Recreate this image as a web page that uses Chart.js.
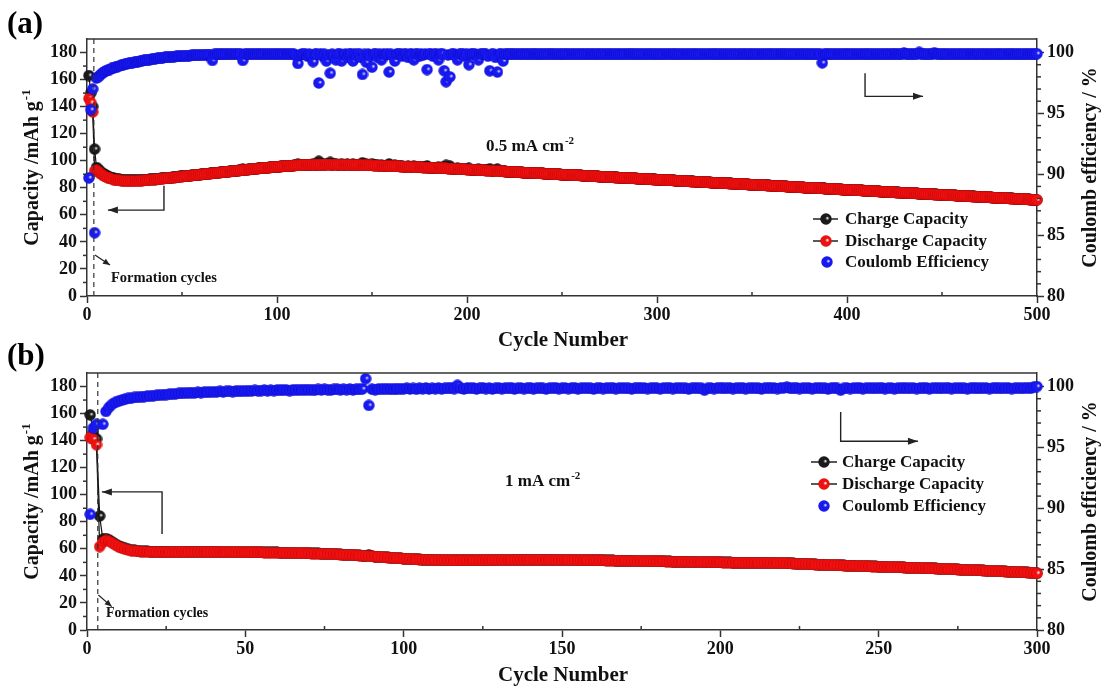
<!DOCTYPE html>
<html><head><meta charset="utf-8">
<script src="https://cdn.jsdelivr.net/npm/chart.js@4.4.1/dist/chart.umd.min.js"></script>
<style>
html,body{margin:0;padding:0;background:#fff;width:1103px;height:686px;overflow:hidden}
canvas{position:absolute;left:0}
#ca{top:0}#cb{top:335px}
</style></head><body>
<canvas id="ca" width="1103" height="360"></canvas>
<canvas id="cb" width="1103" height="351"></canvas>
<script>
// ---------------- DATA: panel (a) 0.5 mA cm-2, 500 cycles ----------------
const nA = 500;
const cycleA = Array.from({length: nA}, (_, i) => i + 1);
const chargeA = [
163.0,150.0,140.0,108.6,95.0,93.6,92.2,91.0,90.0,89.2,
88.5,87.9,87.4,87.0,86.7,86.4,86.2,86.0,85.8,85.7,
85.6,85.6,85.6,85.5,85.6,85.6,85.7,85.8,85.8,85.9,
86.0,86.1,86.2,86.3,86.4,86.5,86.7,86.8,87.0,87.1,
87.2,87.3,87.5,87.6,87.8,87.9,88.1,88.2,88.4,88.5,
88.6,88.7,88.9,89.0,89.2,89.3,89.5,89.6,89.8,89.9,
90.1,90.2,90.4,90.5,90.7,91.2,91.0,91.1,91.3,91.4,
91.5,91.6,91.8,91.9,92.1,92.2,92.4,92.5,92.7,92.8,
93.0,93.6,93.3,93.4,93.6,93.7,93.9,94.0,94.1,94.3,
94.4,94.6,94.7,94.8,95.0,95.1,95.2,95.4,95.5,95.6,
95.7,95.8,95.9,96.0,96.1,96.2,96.3,96.4,96.5,96.7,
97.5,96.8,96.8,96.9,96.9,97.2,97.0,97.2,97.7,97.1,
97.2,99.6,97.2,97.4,97.2,97.8,97.3,98.8,97.2,97.3,
97.7,97.1,97.1,97.7,97.2,97.0,97.3,97.0,97.0,97.5,
96.9,97.1,96.8,97.1,98.5,96.7,97.4,96.6,96.8,97.7,
96.5,96.5,96.7,96.4,96.8,96.3,96.3,96.2,97.6,96.1,
96.2,96.6,95.9,95.9,95.8,96.0,95.7,95.7,95.9,95.6,
95.5,95.9,95.4,95.3,95.5,95.2,95.2,95.1,96.2,95.0,
94.9,95.0,94.8,94.7,95.1,94.6,94.5,95.7,96.6,94.4,
96.0,94.2,94.1,94.2,94.5,93.9,93.8,93.8,93.9,93.6,
94.4,93.4,93.4,93.3,93.3,93.6,93.1,93.0,92.9,92.8,
93.0,94.0,92.6,92.5,92.8,93.8,92.3,92.2,92.7,92.1,
92.0,91.9,91.9,91.8,91.7,91.6,91.6,91.5,91.4,91.3,
91.3,91.2,91.1,91.0,91.0,90.9,90.8,90.7,90.7,90.6,
90.5,90.4,90.4,90.3,90.2,90.1,90.1,90.0,89.9,89.8,
89.8,89.7,89.6,89.5,89.5,89.4,89.3,89.2,89.2,89.1,
89.0,88.9,88.9,88.8,88.7,88.6,88.6,88.5,88.4,88.3,
88.3,88.2,88.1,88.0,88.0,87.9,87.8,87.7,87.7,87.6,
87.5,87.4,87.4,87.3,87.2,87.1,87.1,87.0,86.9,86.8,
86.8,86.7,86.6,86.5,86.5,86.4,86.3,86.2,86.2,86.1,
86.0,85.9,85.9,85.8,85.7,85.6,85.6,85.5,85.4,85.3,
85.3,85.2,85.1,85.0,85.0,84.9,84.8,84.7,84.7,84.6,
84.5,84.4,84.4,84.3,84.2,84.1,84.1,84.0,83.9,83.8,
83.8,83.7,83.6,83.5,83.5,83.4,83.3,83.2,83.2,83.1,
83.0,82.9,82.9,82.8,82.7,82.6,82.6,82.5,82.4,82.3,
82.3,82.2,82.1,82.0,82.0,81.9,81.8,81.7,81.7,81.6,
81.5,81.4,81.4,81.3,81.2,81.1,81.1,81.0,80.9,80.8,
80.8,80.7,80.6,80.5,80.5,80.4,80.3,80.2,80.2,80.1,
80.0,79.9,79.9,79.8,79.7,79.6,80.2,79.5,79.4,79.3,
79.3,79.2,79.1,79.0,79.0,78.9,78.8,78.7,78.7,78.6,
78.5,78.4,78.4,78.3,78.2,78.1,78.1,78.0,77.9,77.8,
77.8,77.7,77.6,77.5,77.5,77.4,77.3,77.2,77.2,77.1,
77.0,76.9,76.9,76.8,76.7,76.6,76.6,76.5,76.4,76.3,
76.3,76.2,76.1,76.0,76.0,75.9,75.8,75.7,75.7,75.6,
75.5,75.4,75.4,75.3,75.2,75.1,75.1,75.0,74.9,74.8,
74.8,74.7,74.6,74.5,74.5,74.4,74.3,74.2,74.2,74.1,
74.0,73.9,73.9,73.8,73.7,73.6,73.6,73.5,73.4,73.3,
73.3,73.2,73.1,73.0,73.0,72.9,72.8,72.7,72.7,72.6,
72.5,72.4,72.4,72.3,72.2,72.1,72.1,72.0,71.9,71.8,
71.8,71.7,71.6,71.5,71.5,71.4,71.3,71.2,71.2,71.1];
const dischargeA = [
146.0,143.0,136.0,92.5,93.0,91.8,90.6,89.6,88.7,88.0,
87.4,86.9,86.5,86.1,85.8,85.6,85.4,85.2,85.1,85.0,
84.9,84.9,84.9,84.9,85.0,85.0,85.1,85.2,85.3,85.4,
85.5,85.6,85.7,85.9,86.0,86.1,86.3,86.4,86.6,86.7,
86.9,87.0,87.2,87.3,87.5,87.6,87.8,87.9,88.1,88.2,
88.4,88.5,88.7,88.8,89.0,89.1,89.3,89.4,89.6,89.7,
89.9,90.0,90.2,90.3,90.5,90.6,90.8,90.9,91.1,91.2,
91.4,91.5,91.7,91.8,92.0,92.1,92.3,92.4,92.6,92.7,
92.9,93.0,93.2,93.3,93.5,93.6,93.8,93.9,94.0,94.2,
94.3,94.5,94.6,94.7,94.9,95.0,95.1,95.3,95.4,95.5,
95.6,95.7,95.8,95.9,96.0,96.1,96.2,96.3,96.4,96.5,
96.6,96.6,96.7,96.8,96.8,96.9,96.9,97.0,97.0,97.0,
97.1,97.1,97.1,97.1,97.1,97.1,97.1,97.1,97.1,97.1,
97.1,97.0,97.0,97.0,97.0,96.9,96.9,96.9,96.9,96.8,
96.8,96.8,96.7,96.7,96.7,96.6,96.6,96.5,96.5,96.5,
96.4,96.4,96.3,96.3,96.2,96.2,96.1,96.1,96.0,96.0,
95.9,95.9,95.8,95.8,95.7,95.7,95.6,95.6,95.5,95.5,
95.4,95.3,95.3,95.2,95.2,95.1,95.0,95.0,94.9,94.9,
94.8,94.7,94.7,94.6,94.5,94.5,94.4,94.3,94.3,94.2,
94.1,94.1,94.0,93.9,93.9,93.8,93.7,93.7,93.6,93.5,
93.4,93.3,93.3,93.2,93.1,93.0,93.0,92.9,92.8,92.7,
92.7,92.6,92.5,92.4,92.4,92.3,92.2,92.1,92.1,92.0,
91.9,91.8,91.8,91.7,91.6,91.5,91.5,91.4,91.3,91.2,
91.2,91.1,91.0,90.9,90.9,90.8,90.7,90.6,90.6,90.5,
90.4,90.3,90.3,90.2,90.1,90.0,90.0,89.9,89.8,89.7,
89.7,89.6,89.5,89.4,89.4,89.3,89.2,89.1,89.1,89.0,
88.9,88.8,88.8,88.7,88.6,88.5,88.5,88.4,88.3,88.2,
88.2,88.1,88.0,87.9,87.9,87.8,87.7,87.6,87.6,87.5,
87.4,87.3,87.3,87.2,87.1,87.0,87.0,86.9,86.8,86.7,
86.7,86.6,86.5,86.4,86.4,86.3,86.2,86.1,86.1,86.0,
85.9,85.8,85.8,85.7,85.6,85.5,85.5,85.4,85.3,85.2,
85.2,85.1,85.0,84.9,84.9,84.8,84.7,84.6,84.6,84.5,
84.4,84.3,84.3,84.2,84.1,84.0,84.0,83.9,83.8,83.7,
83.7,83.6,83.5,83.4,83.4,83.3,83.2,83.1,83.1,83.0,
82.9,82.8,82.8,82.7,82.6,82.5,82.5,82.4,82.3,82.2,
82.2,82.1,82.0,81.9,81.9,81.8,81.7,81.6,81.6,81.5,
81.4,81.3,81.3,81.2,81.1,81.0,81.0,80.9,80.8,80.7,
80.7,80.6,80.5,80.4,80.4,80.3,80.2,80.1,80.1,80.0,
79.9,79.8,79.8,79.7,79.6,79.5,79.5,79.4,79.3,79.2,
79.2,79.1,79.0,78.9,78.9,78.8,78.7,78.6,78.6,78.5,
78.4,78.3,78.3,78.2,78.1,78.0,78.0,77.9,77.8,77.7,
77.7,77.6,77.5,77.4,77.4,77.3,77.2,77.1,77.1,77.0,
76.9,76.8,76.8,76.7,76.6,76.5,76.5,76.4,76.3,76.2,
76.2,76.1,76.0,75.9,75.9,75.8,75.7,75.6,75.6,75.5,
75.4,75.3,75.3,75.2,75.1,75.0,75.0,74.9,74.8,74.7,
74.7,74.6,74.5,74.4,74.4,74.3,74.2,74.1,74.1,74.0,
73.9,73.8,73.8,73.7,73.6,73.5,73.5,73.4,73.3,73.2,
73.2,73.1,73.0,72.9,72.9,72.8,72.7,72.6,72.6,72.5,
72.4,72.3,72.3,72.2,72.1,72.0,72.0,71.9,71.8,71.7,
71.7,71.6,71.5,71.4,71.4,71.3,71.2,71.1,71.1,71.0];
const ceA = [
89.7,95.3,97.0,85.2,97.9,98.0,98.15,98.3,98.4,98.5,
98.55,98.6,98.7,98.75,98.8,98.85,98.9,98.95,99.0,99.05,
99.08,99.1,99.13,99.16,99.2,99.23,99.26,99.3,99.33,99.36,
99.38,99.4,99.42,99.45,99.47,99.5,99.52,99.54,99.56,99.58,
99.6,99.61,99.62,99.64,99.65,99.66,99.68,99.69,99.7,99.71,
99.72,99.73,99.74,99.75,99.76,99.77,99.78,99.78,99.79,99.8,
99.8,99.81,99.82,99.82,99.83,99.35,99.84,99.84,99.85,99.85,
99.86,99.85,99.87,99.86,99.87,99.86,99.88,99.87,99.86,99.87,
99.88,99.35,99.87,99.88,99.86,99.87,99.88,99.87,99.86,99.88,
99.87,99.86,99.88,99.87,99.86,99.87,99.88,99.86,99.87,99.88,
99.87,99.86,99.88,99.87,99.86,99.88,99.87,99.86,99.87,99.75,
99.1,99.8,99.87,99.85,99.88,99.7,99.86,99.8,99.25,99.87,
99.85,97.5,99.9,99.7,99.86,99.3,99.8,98.3,99.87,99.75,
99.4,99.85,99.9,99.3,99.82,99.88,99.6,99.86,99.9,99.3,
99.85,99.7,99.92,99.6,98.2,99.85,99.2,99.88,99.7,98.8,
99.86,99.9,99.6,99.85,99.4,99.88,99.8,99.9,98.4,99.86,
99.7,99.3,99.88,99.85,99.9,99.7,99.86,99.88,99.6,99.87,
99.85,99.4,99.88,99.9,99.7,99.86,99.8,99.88,98.6,99.87,
99.9,99.7,99.86,99.88,99.4,99.85,99.9,98.5,97.6,99.8,
98.0,99.86,99.9,99.7,99.4,99.85,99.88,99.9,99.7,99.86,
99.0,99.88,99.85,99.9,99.8,99.4,99.86,99.88,99.9,99.85,
99.7,98.5,99.86,99.88,99.6,98.4,99.85,99.9,99.3,99.86,
99.88,99.85,99.9,99.86,99.87,99.88,99.85,99.87,99.88,99.86,
99.86,99.88,99.85,99.87,99.9,99.86,99.84,99.88,99.87,99.85,
99.88,99.86,99.87,99.9,99.85,99.87,99.86,99.88,99.84,99.87,
99.86,99.89,99.85,99.87,99.88,99.86,99.85,99.88,99.87,99.86,
99.87,99.85,99.88,99.86,99.89,99.87,99.85,99.86,99.88,99.87,
99.85,99.88,99.86,99.87,99.89,99.85,99.87,99.86,99.88,99.85,
99.87,99.86,99.88,99.85,99.87,99.9,99.86,99.87,99.85,99.88,
99.86,99.87,99.85,99.88,99.86,99.87,99.89,99.85,99.87,99.86,
99.88,99.85,99.87,99.86,99.88,99.87,99.85,99.89,99.86,99.87,
99.85,99.88,99.86,99.87,99.85,99.88,99.87,99.86,99.89,99.85,
99.87,99.86,99.88,99.85,99.87,99.86,99.88,99.87,99.85,99.89,
99.86,99.87,99.85,99.88,99.86,99.87,99.85,99.88,99.87,99.86,
99.88,99.85,99.87,99.86,99.89,99.87,99.85,99.86,99.88,99.87,
99.85,99.88,99.86,99.87,99.85,99.88,99.87,99.86,99.89,99.85,
99.87,99.86,99.88,99.85,99.87,99.9,99.86,99.87,99.85,99.88,
99.86,99.87,99.85,99.88,99.86,99.87,99.89,99.85,99.87,99.86,
99.88,99.85,99.87,99.86,99.88,99.87,99.15,99.89,99.86,99.87,
99.85,99.88,99.86,99.87,99.85,99.88,99.87,99.86,99.89,99.85,
99.87,99.86,99.88,99.85,99.87,99.86,99.88,99.87,99.85,99.89,
99.86,99.87,99.85,99.88,99.86,99.87,99.85,99.88,99.87,99.86,
99.88,99.85,99.87,99.86,99.9,99.87,99.85,99.86,99.88,99.97,
99.85,99.88,99.86,99.87,99.85,99.88,99.87,100.02,99.89,99.85,
99.87,99.86,99.88,99.85,99.87,99.98,99.88,99.87,99.85,99.89,
99.86,99.87,99.85,99.88,99.86,99.87,99.85,99.88,99.87,99.86,
99.88,99.85,99.87,99.86,99.89,99.87,99.85,99.86,99.88,99.87,
99.85,99.88,99.86,99.87,99.85,99.88,99.87,99.86,99.89,99.85,
99.87,99.86,99.88,99.85,99.87,99.9,99.86,99.87,99.85,99.88,
99.86,99.87,99.85,99.88,99.86,99.87,99.89,99.85,99.87,99.9];

// ---------------- DATA: panel (b) 1 mA cm-2, 300 cycles ----------------
const nB = 300;
const cycleB = Array.from({length: nB}, (_, i) => i + 1);
const chargeB = [
159.0,146.0,141.3,84.3,67.1,67.6,66.6,65.1,63.6,62.2,
61.2,60.3,59.6,59.2,58.9,58.6,58.4,58.3,58.1,58.0,
58.0,57.9,57.9,57.9,57.9,57.8,57.8,57.8,57.8,57.8,
57.8,57.9,57.8,57.9,57.8,57.9,57.8,57.8,57.9,57.8,
57.8,57.8,57.7,57.8,57.7,57.7,57.7,57.7,57.6,57.6,
57.6,57.6,57.5,57.5,57.5,57.4,57.4,57.4,57.3,57.3,
57.2,57.2,57.1,57.1,57.0,57.0,56.9,56.9,56.8,56.8,
56.7,56.7,56.6,56.5,56.4,56.4,56.3,56.2,56.1,56.0,
55.8,55.7,55.6,55.4,55.3,55.1,55.0,54.4,55.5,54.5,
54.3,54.2,54.0,53.8,53.6,53.5,53.3,53.1,53.0,52.8,
52.7,52.6,52.4,52.3,52.2,52.1,52.0,51.9,51.9,51.8,
51.8,51.7,51.7,51.7,51.6,51.6,51.6,51.6,51.6,51.6,
51.6,51.6,51.7,51.7,51.7,51.7,51.7,51.8,51.8,51.8,
51.8,51.8,51.8,51.8,51.9,51.9,51.9,51.9,51.9,51.9,
51.9,51.9,51.9,51.9,51.9,51.9,51.9,51.8,51.8,51.8,
51.8,51.8,51.8,51.7,51.7,51.7,51.7,51.6,51.6,51.6,
51.5,51.5,51.5,51.4,51.4,51.4,51.3,51.3,51.3,51.2,
51.2,51.2,51.1,51.1,51.0,51.0,51.0,50.9,50.9,50.8,
50.8,50.8,50.7,50.7,50.6,50.6,50.6,50.5,50.5,50.4,
50.4,50.4,50.3,50.3,50.2,50.2,50.2,50.1,50.1,50.1,
50.0,50.0,50.0,49.9,49.9,49.9,49.9,49.8,49.8,49.8,
49.8,49.7,49.7,49.7,49.7,49.6,49.6,49.6,49.5,49.5,
49.4,49.3,49.2,49.1,49.0,48.9,48.8,48.7,48.6,48.5,
48.4,48.3,48.2,48.1,48.0,48.0,47.9,47.8,47.7,47.6,
47.6,47.5,47.4,47.3,47.3,47.2,47.1,47.0,47.0,46.9,
46.8,46.7,46.7,46.6,46.5,46.4,46.4,46.3,46.2,46.1,
46.0,46.0,45.9,45.8,45.7,45.6,45.6,45.5,45.4,45.3,
45.2,45.1,45.0,44.9,44.8,44.7,44.6,44.5,44.4,44.3,
44.2,44.1,44.0,43.9,43.8,43.7,43.6,43.5,43.4,43.3,
43.2,43.1,43.0,42.9,42.8,42.7,42.6,42.4,42.2,42.0];
const dischargeB = [
142.3,141.0,137.0,61.6,65.0,66.2,65.5,64.2,62.8,61.5,
60.5,59.7,59.1,58.7,58.4,58.2,58.0,57.9,57.8,57.7,
57.7,57.6,57.6,57.6,57.6,57.6,57.6,57.6,57.6,57.6,
57.6,57.7,57.6,57.7,57.6,57.7,57.6,57.6,57.7,57.6,
57.6,57.6,57.5,57.6,57.5,57.5,57.5,57.5,57.4,57.4,
57.4,57.4,57.3,57.3,57.3,57.2,57.2,57.2,57.1,57.1,
57.0,57.0,56.9,56.9,56.8,56.8,56.7,56.7,56.6,56.6,
56.5,56.5,56.4,56.3,56.2,56.2,56.1,56.0,55.9,55.8,
55.7,55.6,55.5,55.3,55.2,55.0,54.9,54.7,54.6,54.4,
54.2,54.1,53.9,53.7,53.5,53.4,53.2,53.0,52.9,52.7,
52.6,52.5,52.3,52.2,52.1,52.0,51.9,51.8,51.8,51.7,
51.7,51.6,51.6,51.6,51.5,51.5,51.5,51.5,51.5,51.5,
51.5,51.5,51.6,51.6,51.6,51.6,51.6,51.7,51.7,51.7,
51.7,51.7,51.7,51.7,51.8,51.8,51.8,51.8,51.8,51.8,
51.8,51.8,51.8,51.8,51.8,51.8,51.8,51.7,51.7,51.7,
51.7,51.7,51.7,51.6,51.6,51.6,51.6,51.5,51.5,51.5,
51.4,51.4,51.4,51.3,51.3,51.3,51.2,51.2,51.2,51.1,
51.1,51.1,51.0,51.0,50.9,50.9,50.9,50.8,50.8,50.7,
50.7,50.7,50.6,50.6,50.5,50.5,50.5,50.4,50.4,50.3,
50.3,50.3,50.2,50.2,50.1,50.1,50.1,50.0,50.0,50.0,
49.9,49.9,49.9,49.8,49.8,49.8,49.8,49.7,49.7,49.7,
49.7,49.6,49.6,49.6,49.6,49.5,49.5,49.5,49.4,49.4,
49.3,49.2,49.1,49.0,48.9,48.8,48.7,48.6,48.5,48.4,
48.3,48.2,48.1,48.0,47.9,47.9,47.8,47.7,47.6,47.5,
47.5,47.4,47.3,47.2,47.2,47.1,47.0,46.9,46.9,46.8,
46.7,46.6,46.6,46.5,46.4,46.3,46.3,46.2,46.1,46.0,
45.9,45.9,45.8,45.7,45.6,45.5,45.5,45.4,45.3,45.2,
45.1,45.0,44.9,44.8,44.7,44.6,44.5,44.4,44.3,44.2,
44.1,44.0,43.9,43.8,43.7,43.6,43.5,43.4,43.3,43.2,
43.1,43.0,42.9,42.8,42.7,42.6,42.5,42.3,42.1,41.9];
const ceB = [
89.5,96.6,96.9,null,96.9,97.95,98.3,98.55,98.7,98.8,
98.88,98.95,99.02,99.05,99.1,99.12,99.15,99.18,99.2,99.22,
99.25,99.27,99.3,99.32,99.34,99.36,99.38,99.4,99.43,99.45,
99.46,99.48,99.5,99.47,99.52,99.5,99.54,99.52,99.56,99.55,
99.57,99.6,99.56,99.6,99.62,99.58,99.63,99.6,99.64,99.62,
99.66,99.63,99.68,99.64,99.67,99.7,99.65,99.69,99.67,99.71,
99.68,99.72,99.7,99.66,99.73,99.7,99.74,99.71,99.75,99.72,
99.74,99.7,99.76,99.73,99.77,99.74,99.71,99.76,99.78,99.74,
99.77,99.75,99.79,99.73,99.78,99.76,99.8,100.64,98.45,99.78,
99.74,99.8,99.77,99.82,99.78,99.81,99.76,99.83,99.79,99.82,
99.85,99.8,99.84,99.78,99.86,99.82,99.88,99.8,99.85,99.83,
99.87,99.81,99.86,99.84,99.9,99.82,100.1,99.85,99.8,99.88,
99.84,99.88,99.8,99.86,99.9,99.83,99.87,99.8,99.85,99.89,
99.82,99.87,99.84,99.9,99.8,99.86,99.88,99.83,99.85,99.9,
99.81,99.86,99.89,99.84,99.8,99.87,99.85,99.9,99.82,99.86,
99.88,99.83,99.86,99.9,99.81,99.85,99.88,99.84,99.87,99.8,
99.86,99.89,99.83,99.87,99.85,99.9,99.82,99.86,99.88,99.84,
99.87,99.81,99.86,99.9,99.84,99.88,99.83,99.86,99.89,99.85,
99.82,99.87,99.85,99.9,99.83,99.86,99.88,99.84,99.87,99.8,
99.86,99.89,99.84,99.87,99.7,99.85,99.88,99.83,99.87,99.9,
99.84,99.86,99.89,99.83,99.87,99.85,99.9,99.82,99.86,99.88,
99.84,99.87,99.81,99.86,99.9,99.85,99.88,99.83,99.87,99.89,
99.95,99.86,99.84,99.9,99.83,99.87,99.85,99.88,99.82,99.86,
99.89,99.84,99.87,99.8,99.86,99.9,99.84,99.7,99.85,99.88,
99.83,99.87,99.85,99.9,99.82,99.86,99.88,99.84,99.87,99.85,
99.9,99.83,99.86,99.88,99.82,99.87,99.85,99.89,99.84,99.86,
99.88,99.83,99.87,99.85,99.9,99.82,99.86,99.89,99.84,99.87,
99.85,99.9,99.83,99.86,99.88,99.84,99.87,99.82,99.86,99.9,
99.84,99.87,99.85,99.88,99.83,99.86,99.9,99.84,99.87,99.85,
99.89,99.83,99.86,99.88,99.84,99.87,99.9,99.85,99.95,100.0];

// tick values
const capTicks = [0,20,40,60,80,100,120,140,160,180];
const ceTicks = [80,85,90,95,100];
const capMinor = [10,30,50,70,90,110,130,150,170];
const ceMinor = [81,82,83,84,86,87,88,89,91,92,93,94,96,97,98,99];
const xMinorA = [50,150,250,350,450];
const xMinorB = [25,75,125,175,225,275];

// ---------------- drawing helpers ----------------
const FF = '"Liberation Serif","Times New Roman",serif';
const F = s => 'bold ' + s + 'px ' + FF;
const INK = '#111';

function ball(base, edge, hl) {
  const s = 12, c = document.createElement('canvas');
  c.width = s; c.height = s;
  const g = c.getContext('2d');
  const gr = g.createRadialGradient(s*0.64, s*0.42, 0.3, s/2, s/2, s/2);
  gr.addColorStop(0, hl); gr.addColorStop(0.3, base); gr.addColorStop(0.85, base); gr.addColorStop(1, edge);
  g.fillStyle = gr; g.beginPath(); g.arc(s/2, s/2, s/2 - 0.3, 0, Math.PI*2); g.fill();
  return c;
}
const ballK = ball('#1a1a1a', '#000000', '#e0e0e0');
const ballR = ball('#f01010', '#a00000', '#ffffff');
const ballB = ball('#1818f0', '#0000a8', '#d8d8ff');

function seg(ctx, x1, y1, x2, y2) { ctx.beginPath(); ctx.moveTo(x1, y1); ctx.lineTo(x2, y2); ctx.stroke(); }
function head(ctx, x, y, ang, len, half) {
  ctx.save(); ctx.translate(x, y); ctx.rotate(ang);
  ctx.beginPath(); ctx.moveTo(0, 0); ctx.lineTo(-len, -half); ctx.lineTo(-len, half); ctx.closePath(); ctx.fill();
  ctx.restore();
}
function supText(ctx, x, y, main, sup, sz, ssz) {
  ctx.textAlign = 'left'; ctx.textBaseline = 'alphabetic';
  ctx.font = F(sz); const w = ctx.measureText(main).width;
  ctx.fillText(main, x, y);
  ctx.font = F(ssz); ctx.fillText(sup, x + w + 1, y - sz * 0.42);
}
function supWidth(ctx, main, sup, sz, ssz) {
  ctx.font = F(sz); const w = ctx.measureText(main).width;
  ctx.font = F(ssz); return w + 1 + ctx.measureText(sup).width;
}

const decor = {
  id: 'decor',
  afterDraw(chart, _a, o) {
    const {ctx, chartArea: ca} = chart;
    const sx = chart.scales.x, sy = chart.scales.y, sy2 = chart.scales.y2;
    const P = (p, ax) => [sx.getPixelForValue(p[0]), (ax === 'y2' ? sy2 : sy).getPixelForValue(p[1])];
    ctx.save();
    ctx.strokeStyle = '#333'; ctx.fillStyle = '#222'; ctx.lineWidth = 1.5;
    // frame top
    seg(ctx, ca.left, ca.top, ca.right, ca.top);
    // minor ticks
    o.xMinor.forEach(v => { const x = sx.getPixelForValue(v); seg(ctx, x, ca.bottom, x, ca.bottom - 4); });
    capMinor.forEach(v => { const y = sy.getPixelForValue(v); seg(ctx, ca.left, y, ca.left - 4, y); });
    ceMinor.forEach(v => { const y = sy2.getPixelForValue(v); seg(ctx, ca.right, y, ca.right + 4, y); });
    // dashed formation line
    ctx.lineWidth = 1.2; ctx.setLineDash([5, 4]);
    const xd = sx.getPixelForValue(o.dash);
    seg(ctx, xd, ca.top, xd, ca.bottom);
    ctx.setLineDash([]);
    // bracket arrows
    ctx.lineWidth = 1.4; ctx.strokeStyle = '#222';
    o.brackets.forEach(b => {
      const pts = b.pts.map(p => P(p, b.axis));
      ctx.beginPath(); ctx.moveTo(pts[0][0], pts[0][1]);
      for (let i = 1; i < pts.length; i++) ctx.lineTo(pts[i][0], pts[i][1]);
      ctx.stroke();
      const a = pts[pts.length - 2], e = pts[pts.length - 1];
      head(ctx, e[0], e[1], Math.atan2(e[1] - a[1], e[0] - a[0]), 10, 3.5);
    });
    // formation arrow + text
    const f1 = P(o.form.from, 'y'), f2 = P(o.form.to, 'y');
    ctx.lineWidth = 1.2;
    seg(ctx, f1[0], f1[1], f2[0], f2[1]);
    head(ctx, f2[0], f2[1], Math.atan2(f2[1] - f1[1], f2[0] - f1[0]), 7, 3);
    const ft = P(o.form.text, 'y');
    ctx.fillStyle = INK; ctx.font = F(o.form.size); ctx.textAlign = 'left'; ctx.textBaseline = 'middle';
    ctx.fillText('Formation cycles', ft[0], ft[1]);
    // current density label
    const cp = P(o.conc.at, 'y');
    supText(ctx, cp[0], cp[1] + 6, o.conc.text, '-2', 17, 11);
    // legend
    const L = o.legend;
    const items = [[ballK, true, 'Charge Capacity'], [ballR, true, 'Discharge Capacity'], [ballB, false, 'Coulomb Efficiency']];
    items.forEach((it, i) => {
      const y = L.rows[i];
      ctx.strokeStyle = '#222'; ctx.lineWidth = 1.5;
      if (it[1]) { seg(ctx, L.x1, y, L.xm - 5, y); seg(ctx, L.xm + 5, y, L.x2, y); }
      ctx.drawImage(it[0], (it[1] ? L.xm : L.xb) - 6, y - 6);
      ctx.fillStyle = INK; ctx.font = F(17); ctx.textAlign = 'left'; ctx.textBaseline = 'middle';
      ctx.fillText(it[2], L.xt, y + 1);
    });
    // panel label
    ctx.font = F(31); ctx.textBaseline = 'middle'; ctx.textAlign = 'left'; ctx.fillStyle = '#000';
    ctx.fillText(o.panel, 7, o.panelY);
    // axis titles
    const yc = (ca.top + ca.bottom) / 2;
    ctx.save(); ctx.translate(31, yc); ctx.rotate(-Math.PI / 2);
    const tw = supWidth(ctx, 'Capacity /mAh g', '-1', 20, 13);
    ctx.fillStyle = INK; supText(ctx, -tw / 2, 7, 'Capacity /mAh g', '-1', 20, 13);
    ctx.restore();
    ctx.save(); ctx.translate(1091, yc); ctx.rotate(-Math.PI / 2);
    ctx.fillStyle = INK; ctx.font = F(20); ctx.textAlign = 'center'; ctx.textBaseline = 'middle';
    ctx.fillText('Coulomb efficiency / %', 0, 0);
    ctx.restore();
    ctx.fillStyle = INK; ctx.font = F(21); ctx.textAlign = 'center'; ctx.textBaseline = 'middle';
    ctx.fillText('Cycle Number', 563, o.xTitleY);
    ctx.restore();
  }
};

function pts(xs, ys) { return xs.map((x, i) => ({x: x, y: ys[i]})); }

function build(id, D) {
  const tickFont = {family: FF, size: 18, weight: 'bold'};
  const axisCommon = {
    grid: {drawOnChartArea: false, drawTicks: true, tickLength: 7, tickColor: '#333', tickWidth: 1.5},
    border: {display: true, color: '#333', width: 1.5}
  };
  return new Chart(document.getElementById(id), {
    type: 'line',
    data: {datasets: [
      {label: 'Charge Capacity', data: pts(D.cycles, D.charge), yAxisID: 'y', borderColor: '#111', borderWidth: 1.2,
       pointStyle: ballK, pointRadius: 6, order: 3, clip: false, tension: 0},
      {label: 'Discharge Capacity', data: pts(D.cycles, D.discharge), yAxisID: 'y', borderColor: '#111', borderWidth: 1.2,
       pointStyle: ballR, pointRadius: 6, order: 2, clip: false, tension: 0},
      {label: 'Coulomb Efficiency', data: pts(D.cycles, D.ce), yAxisID: 'y2', showLine: false, borderWidth: 0,
       pointStyle: ballB, pointRadius: 6, order: 1, clip: false}
    ]},
    options: {
      responsive: false, animation: false, devicePixelRatio: 1,
      events: [],
      layout: {padding: {top: D.top, left: 0, right: 0, bottom: 0}},
      plugins: {legend: {display: false}, tooltip: {enabled: false}, decor: D.decor},
      scales: {
        x: Object.assign({type: 'linear', min: 0, max: D.xmax, afterFit: s => { s.height = D.xH; },
          ticks: {stepSize: D.xstep, font: tickFont, color: INK, padding: 2, maxRotation: 0, includeBounds: false}}, axisCommon),
        y: Object.assign({type: 'linear', position: 'left', min: 0, max: 190, afterFit: s => { s.width = 87; },
          afterBuildTicks: s => { s.ticks = capTicks.map(v => ({value: v})); },
          ticks: {font: tickFont, color: INK, padding: 3}}, axisCommon),
        y2: Object.assign({type: 'linear', position: 'right', min: 80, max: 80 + 190 / 9, afterFit: s => { s.width = 66; },
          afterBuildTicks: s => { s.ticks = ceTicks.map(v => ({value: v})); },
          ticks: {font: tickFont, color: INK, padding: 3}}, axisCommon)
      }
    },
    plugins: [decor]
  });
}

build('ca', {
  cycles: cycleA, charge: chargeA, discharge: dischargeA, ce: ceA,
  xmax: 500, xstep: 100, top: 39, xH: 64,
  decor: {
    panel: '(a)', panelY: 25, xTitleY: 341, xMinor: xMinorA, dash: 3.6,
    brackets: [
      {axis: 'y', pts: [[40.5, 81.5], [40.5, 63.5], [11, 63.5]]},
      {axis: 'y2', pts: [[409.5, 98.3], [409.5, 96.4], [440, 96.4]]}
    ],
    form: {from: [4.2, 30.3], to: [12.1, 22.9], text: [12.6, 13.3], size: 14.5},
    conc: {at: [210, 111.6], text: '0.5 mA cm'},
    legend: {x1: 813, x2: 838, xm: 826, xb: 827, xt: 845, rows: [219, 241, 262]}
  }
});
build('cb', {
  cycles: cycleB, charge: chargeB, discharge: dischargeB, ce: ceB,
  xmax: 300, xstep: 50, top: 38, xH: 56,
  decor: {
    panel: '(b)', panelY: 22, xTitleY: 341, xMinor: xMinorB, dash: 3.4,
    brackets: [
      {axis: 'y', pts: [[23.7, 71], [23.7, 102.1], [4.7, 102.1]]},
      {axis: 'y2', pts: [[238, 97.9], [238, 95.5], [262.4, 95.5]]}
    ],
    form: {from: [3.6, 25.9], to: [7.8, 17.3], text: [6.0, 12.6], size: 14},
    conc: {at: [132, 111], text: '1 mA cm'},
    legend: {x1: 811, x2: 837, xm: 824, xb: 824, xt: 842, rows: [127, 149, 171]}
  }
});
</script>
</body></html>
